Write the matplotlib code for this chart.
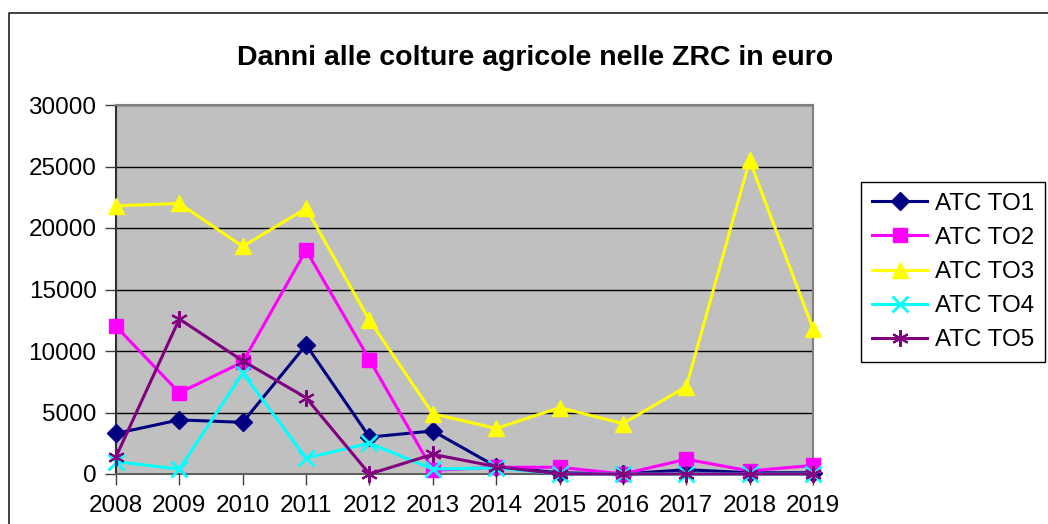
import matplotlib
matplotlib.use("Agg")
import matplotlib.pyplot as plt
from matplotlib.lines import Line2D

plt.rcParams['font.family'] = ['Liberation Sans', 'DejaVu Sans']

years = [2008, 2009, 2010, 2011, 2012, 2013, 2014, 2015, 2016, 2017, 2018, 2019]
to1 = [3300, 4400, 4200, 10500, 3000, 3500, 600, 100, 0, 350, 100, 100]
to2 = [12000, 6600, 9100, 18200, 9300, 300, 550, 550, 0, 1200, 250, 700]
to3 = [21800, 22000, 18500, 21600, 12500, 4900, 3700, 5400, 4100, 7100, 25500, 11800]
to4 = [1000, 400, 8200, 1300, 2500, 400, 500, 0, 0, 0, 0, 0]
to5 = [1400, 12600, 9200, 6200, 0, 1600, 600, 0, 0, 0, 0, 0]
labels = ['ATC TO1', 'ATC TO2', 'ATC TO3', 'ATC TO4', 'ATC TO5']
yticks = [0, 5000, 10000, 15000, 20000, 25000, 30000]

W, H = 1048, 524
fig = plt.figure(figsize=(W / 100, H / 100), dpi=100)
ax = fig.add_axes([116 / W, 1 - 474 / H, (813 - 116) / W, (474 - 105) / H])
ax.set_facecolor('#C0C0C0')

x = list(range(len(years)))
series = [
    (to1, '#000080', 'D', 9, 1.0),
    (to2, '#FF00FF', 's', 10, 1.0),
    (to3, '#FFFF00', '^', 11, 1.0),
    (to4, '#00FFFF', 'x', 11, 2.0),
    (to5, '#800080', (6, 2, 0), 12, 1.5),
]
for (vals, col, mk, ms, mew), lab in zip(series, labels):
    ax.plot(x, vals, color=col, marker=mk, markersize=ms, markeredgewidth=mew,
            markeredgecolor=col, linewidth=2.2, label=lab, clip_on=False, zorder=3)

ax.set_xlim(0, len(years) - 1)
ax.set_ylim(0, 30000)
ax.set_yticks(yticks)
ax.set_yticklabels([str(v) for v in yticks])
ax.set_xticks(x)
ax.set_xticklabels([str(y) for y in years])
ax.yaxis.grid(True, color='black', linewidth=1.0)
ax.set_axisbelow(True)
ax.tick_params(axis='both', direction='out', length=8, width=1, colors='#404040',
               labelsize=17.5, labelcolor='black')
ax.tick_params(axis='y', pad=6)
ax.tick_params(axis='x', pad=7)

ax.spines['left'].set_color('#303030')
ax.spines['bottom'].set_color('#606060')
ax.spines['top'].set_color('#808080')
ax.spines['right'].set_color('#808080')
for s in ax.spines.values():
    s.set_linewidth(1.5)

fig.text(535 / W, 1 - 58 / H, 'Danni alle colture agricole nelle ZRC in euro',
         ha='center', va='center', fontsize=20.5, fontweight='bold')

leg = fig.legend(loc='upper left', bbox_to_anchor=(861 / W, 1 - 182 / H),
                 fontsize=17.4, frameon=True, fancybox=False, framealpha=1,
                 edgecolor='black', handlelength=2.3, borderpad=0.45,
                 labelspacing=0.5, handletextpad=0.3, borderaxespad=0)
leg.get_frame().set_linewidth(1.0)

# outer chart border (cut off on the right and bottom)
fig.add_artist(Line2D([9 / W, 9 / W, 1.0], [0, 1 - 13 / H, 1 - 13 / H],
                      transform=fig.transFigure, color='#202020', linewidth=1.2))

fig.savefig('out.png', dpi=100)
